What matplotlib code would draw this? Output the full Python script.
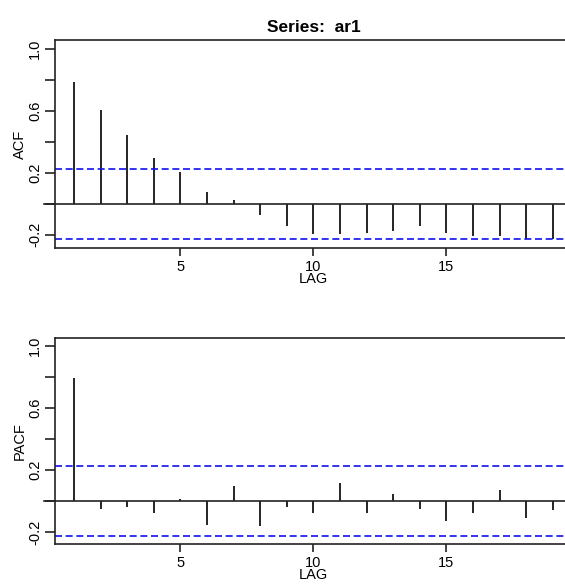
import numpy as np
import matplotlib
matplotlib.use("Agg")
import matplotlib.pyplot as plt

plt.rcParams['font.family'] = ['Liberation Sans', 'DejaVu Sans']

# --- data ---
lags = list(range(1, 20))
acf_vals = [0.783, 0.604, 0.445, 0.297, 0.202, 0.077, 0.026, -0.071, -0.145,
            -0.198, -0.198, -0.186, -0.176, -0.145, -0.186, -0.208, -0.208,
            -0.225, -0.225]
pacf_vals = [0.794, -0.048, -0.037, -0.080, 0.013, -0.155, 0.099, -0.163,
             -0.037, -0.080, 0.120, -0.080, 0.047, -0.049, -0.131, -0.080,
             0.069, -0.112, -0.060]
conf = 0.225
yticks = [-0.2, 0.0, 0.2, 0.4, 0.6, 0.8, 1.0]
ytick_labels = ['-0.2', '', '0.2', '', '0.6', '', '1.0']
xticks = [5, 10, 15]

W, H = 565, 586
fig = plt.figure(figsize=(W / 100, H / 100), dpi=100)

left = 54.8 / W
width = (572 - 54.8) / W
ax1 = fig.add_axes([left, 1 - 248 / H, width, (248 - 40.3) / H])
ax2 = fig.add_axes([left, 1 - 543.7 / H, width, (543.7 - 337.7) / H])


def draw(ax, vals, ylabel, ylim):
    ax.vlines(lags, 0, vals, color='black', lw=1.2)
    ax.axhline(0, color='#222222', lw=1.2, xmin=-0.02, clip_on=False)
    for c in (conf, -conf):
        ax.axhline(c, color='#1010ee', lw=1.2, linestyle=(0, (4.2, 2.2)))
    ax.set_xlim(0.28, 19.72)
    ax.set_ylim(*ylim)
    ax.set_yticks(yticks)
    ax.set_yticklabels(ytick_labels, rotation=90, va='center', fontsize=10.5)
    ax.set_xticks(xticks)
    ax.set_xticklabels([str(x) for x in xticks], fontsize=10.5)
    ax.tick_params(axis='y', length=7.2, width=1.2, pad=2, color='#222222')
    ax.tick_params(axis='x', length=6, width=1.2, pad=2.5, color='#222222')
    for s in ax.spines.values():
        s.set_linewidth(1.2)
        s.set_color('#222222')
    ax.spines['right'].set_visible(False)
    ax.set_xlabel('LAG', fontsize=10.5, labelpad=-1)
    ax.set_ylabel(ylabel, fontsize=10.5, labelpad=1)


draw(ax1, acf_vals, 'ACF', (-0.286, 1.054))
draw(ax2, pacf_vals, 'PACF', (-0.275, 1.055))
ax1.set_title('Series:  ar1', fontsize=12.5, fontweight='bold', pad=6)

fig.savefig('out.png', dpi=100)
